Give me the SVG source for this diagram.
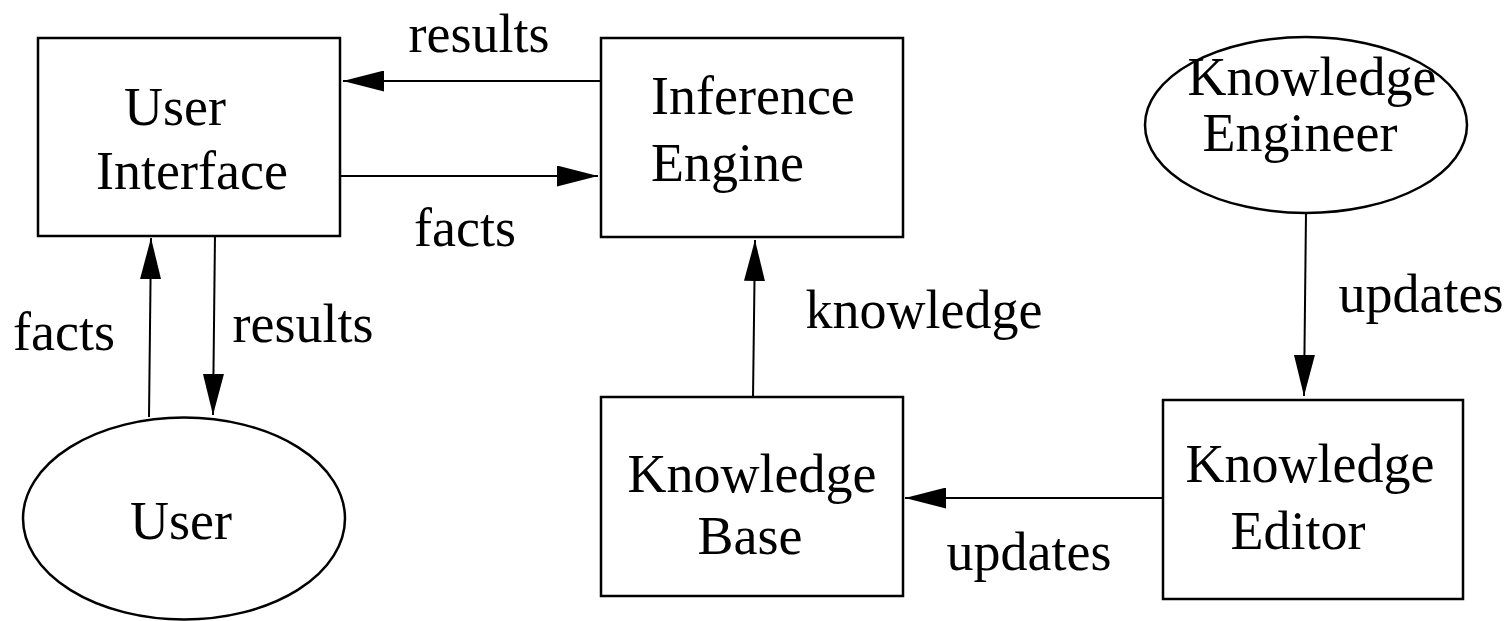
<svg xmlns="http://www.w3.org/2000/svg" width="1509" height="621" viewBox="0 0 1509 621">
<style>
.box{fill:#fff;stroke:#000;stroke-width:2.5}
.edge{fill:none;stroke:#000;stroke-width:2}
text{font-family:"Liberation Serif","Times New Roman",serif;font-size:54px;fill:#000;text-anchor:middle}
</style>
<defs>
<marker id="ah" markerUnits="userSpaceOnUse" markerWidth="41" markerHeight="21" refX="41" refY="10.5" orient="auto" viewBox="0 0 41 21">
<path d="M0,0 L41,10.5 L0,21 z" fill="#000"/>
</marker>
</defs>
<rect width="1509" height="621" fill="#fff"/>
<g id="connectors">
<line class="edge" x1="601" y1="81" x2="343" y2="81" marker-end="url(#ah)"/>
<line class="edge" x1="339" y1="176" x2="598" y2="176" marker-end="url(#ah)"/>
<line class="edge" x1="149" y1="417" x2="151" y2="238" marker-end="url(#ah)"/>
<line class="edge" x1="215" y1="234" x2="213" y2="415" marker-end="url(#ah)"/>
<line class="edge" x1="753" y1="398" x2="755" y2="240" marker-end="url(#ah)"/>
<line class="edge" x1="1306" y1="213" x2="1304" y2="396" marker-end="url(#ah)"/>
<line class="edge" x1="1163" y1="498" x2="905" y2="498" marker-end="url(#ah)"/>
<text x="479" y="52">results</text>
<text x="465" y="246">facts</text>
<text x="64" y="350">facts</text>
<text x="303" y="342">results</text>
<text x="924" y="328">knowledge</text>
<text x="1421" y="312">updates</text>
<text x="1029" y="570">updates</text>
</g>
<g id="user-interface">
<rect class="box" x="38" y="38" width="302" height="198"/>
<text x="175" y="125">User</text>
<text x="192" y="189">Interface</text>
</g>
<g id="inference-engine">
<rect class="box" x="601" y="38" width="302" height="199"/>
<text x="651" y="114" style="text-anchor:start">Inference</text>
<text x="651" y="181" style="text-anchor:start">Engine</text>
</g>
<g id="knowledge-engineer">
<ellipse class="box" cx="1306" cy="125" rx="161" ry="88"/>
<text x="1312" y="95">Knowledge</text>
<text x="1300" y="151">Engineer</text>
</g>
<g id="user">
<ellipse class="box" cx="184" cy="518.5" rx="161" ry="101"/>
<text x="181" y="539">User</text>
</g>
<g id="knowledge-base">
<rect class="box" x="601" y="397" width="302" height="199"/>
<text x="752" y="492">Knowledge</text>
<text x="750" y="554">Base</text>
</g>
<g id="knowledge-editor">
<rect class="box" x="1163" y="400" width="300" height="199"/>
<text x="1310" y="482">Knowledge</text>
<text x="1298" y="549">Editor</text>
</g>
</svg>
